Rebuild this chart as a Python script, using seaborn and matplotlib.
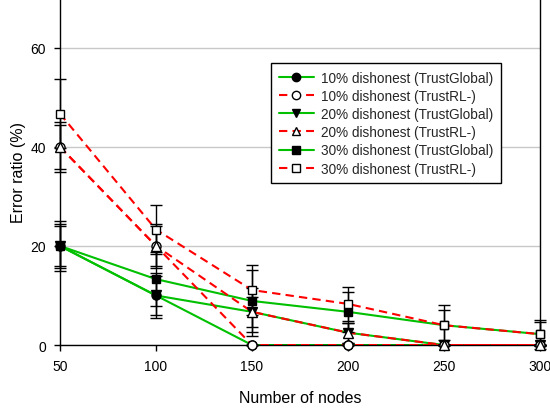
import numpy as np
import pandas as pd
import seaborn as sns
import matplotlib
matplotlib.use("Agg")
import matplotlib.pyplot as plt

nodes = [50, 100, 150, 200, 250, 300]

tg10 = [20, 10, 0, 0, 0, 0]
rl10 = [40, 20, 0, 0, 0, 0]
tg20 = [20, 10, 6.7, 2.5, 0, 0]
rl20 = [40, 20, 6.7, 2.5, 0, 0]
tg30 = [20, 13.3, 8.9, 6.7, 4.0, 2.2]
rl30 = [46.7, 23.3, 11.1, 8.3, 4.0, 2.2]

err_tg10 = [4.5, 4.0, 0, 0, 0, 0]
err_rl10 = [4.5, 4.0, 0, 0, 0, 0]
err_tg20 = [5.0, 4.5, 3.0, 2.0, 0, 0]
err_rl20 = [5.0, 4.5, 4.8, 2.0, 0, 0]
err_tg30 = [4.0, 5.5, 6.2, 4.1, 3.0, 2.4]
err_rl30 = [7.0, 5.0, 5.0, 3.5, 4.0, 2.9]

labels = ["10% dishonest (TrustGlobal)", "10% dishonest (TrustRL-)",
          "20% dishonest (TrustGlobal)", "20% dishonest (TrustRL-)",
          "30% dishonest (TrustGlobal)", "30% dishonest (TrustRL-)"]
values = [tg10, rl10, tg20, rl20, tg30, rl30]
errors = [err_tg10, err_rl10, err_tg20, err_rl20, err_tg30, err_rl30]

sns.set_theme(style="white")
plt.rcParams['font.family'] = ['Liberation Sans', 'DejaVu Sans']

fig = plt.figure(figsize=(5.5, 4.1), dpi=100)
ax = fig.add_axes([0.109, 0.156, 0.873, 0.846])

green = "#00c000"
red = "#ff0000"
styles = [
    dict(color=green, ls="-", marker="o", mfc="black"),
    dict(color=red, ls=(0, (4, 2.5)), marker="o", mfc="white"),
    dict(color=green, ls="-", marker="v", mfc="black"),
    dict(color=red, ls=(0, (4, 2.5)), marker="^", mfc="white"),
    dict(color=green, ls="-", marker="s", mfc="black"),
    dict(color=red, ls=(0, (4, 2.5)), marker="s", mfc="white"),
]

order = [0, 2, 4, 1, 3, 5]
for i in order:
    df = pd.DataFrame({"nodes": nodes, "val": values[i]})
    st = styles[i]
    sns.lineplot(data=df, x="nodes", y="val", ax=ax, color=st["color"],
                 linestyle=st["ls"], linewidth=1.5, zorder=2 + (i % 2),
                 legend=False)

for i in range(6):
    ax.errorbar(nodes, values[i], yerr=errors[i], fmt="none", ecolor="black",
                elinewidth=1.0, capsize=4, capthick=1.0, zorder=4, clip_on=False)

for i in order:
    st = styles[i]
    ax.plot(nodes, values[i], linestyle="none", marker=st["marker"],
            markersize=6.5 if st["marker"] != "s" else 6, markerfacecolor=st["mfc"],
            markeredgecolor="black", markeredgewidth=1.0, zorder=5, clip_on=False)

handles = []
for i in range(6):
    st = styles[i]
    h, = ax.plot([], [], color=st["color"], linestyle=st["ls"], linewidth=1.5,
                 marker=st["marker"], markersize=6 if st["marker"] != "s" else 5.5,
                 markerfacecolor=st["mfc"], markeredgecolor="black", markeredgewidth=1.0)
    handles.append(h)

leg = ax.legend(handles, labels, loc="upper left", bbox_to_anchor=(0.44, 0.813),
                fontsize=9.8, frameon=True, fancybox=False, edgecolor="black",
                handlelength=2.6, handletextpad=0.5, labelspacing=0.31,
                borderpad=0.55, borderaxespad=0, framealpha=1)
leg.get_frame().set_linewidth(1.0)

ax.set_xlim(50, 300)
ax.set_ylim(0, 70)
ax.set_xticks([50, 100, 150, 200, 250, 300])
ax.set_yticks([0, 20, 40, 60])
ax.yaxis.grid(True, color="#c8c8c8", linewidth=1.0)
ax.set_axisbelow(True)
for s in ["left", "right", "bottom"]:
    ax.spines[s].set_color("black")
    ax.spines[s].set_linewidth(1.0)
ax.spines["top"].set_visible(False)
ax.tick_params(axis="both", direction="out", length=4, width=1, color="black",
               labelsize=10, labelcolor="black", bottom=True, left=True, pad=6)
ax.set_xlabel("Number of nodes", fontsize=11.5, color="black", labelpad=12)
ax.set_ylabel("Error ratio (%)", fontsize=11.5, color="black", labelpad=3)

fig.savefig("out.png", dpi=100)
